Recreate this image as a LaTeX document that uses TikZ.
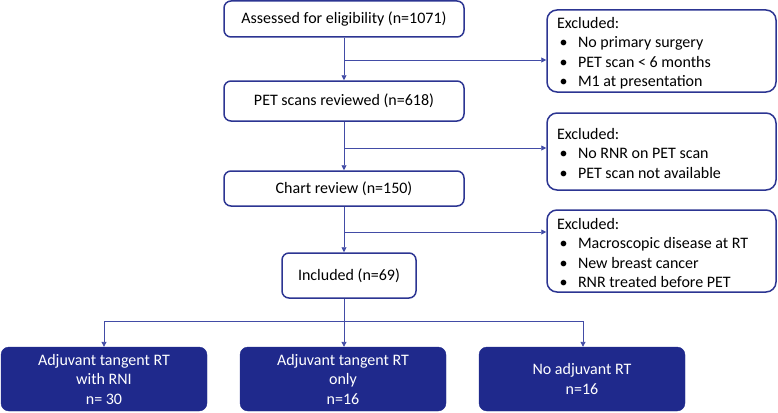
\documentclass[tikz,border=0pt]{standalone}
\usepackage{fontspec}
\setmainfont{Carlito}
\usetikzlibrary{arrows.meta}
\definecolor{bordc}{RGB}{44,53,146}
\definecolor{linec}{RGB}{66,76,166}
\definecolor{fillc}{RGB}{31,41,140}
\newcommand{\bitem}[1]{\\\makebox[21pt][l]{\hspace{2.5pt}\textbullet}#1}
\newcommand{\extext}[1]{\raisebox{-2pt}[\height][\depth]{\parbox{209pt}{\raggedright #1}}}
\begin{document}
\begin{tikzpicture}[x=1pt,y=-1pt,
  every node/.style={font=\fontsize{16}{19.5}\selectfont},
  mainbox/.style={draw=bordc,line width=1.5pt,rounded corners=7pt,fill=white,
    minimum width=240pt,inner sep=0pt,align=center},
  exbox/.style={draw=bordc,line width=1.5pt,rounded corners=10pt,fill=white,
    minimum width=229pt,inner xsep=10pt,inner ysep=0pt},
  armbox/.style={fill=fillc,draw=fillc,rounded corners=8pt,text=white,
    minimum width=206pt,minimum height=64pt,inner sep=0pt,align=center},
  conn/.style={draw=linec,line width=0.9pt},
  arr/.style={conn,-{Triangle[length=5pt,width=5pt]}}
]
\useasboundingbox (0,0) rectangle (778,412);

\node[mainbox,minimum height=36pt] (b1) at (344,19) {Assessed for eligibility (n=1071)};
\node[mainbox,minimum height=40pt] (b2) at (344,101) {PET scans reviewed (n=618)};
\node[mainbox,minimum height=35pt] (b3) at (344,188.5) {Chart review (n=150)};
\node[mainbox,minimum width=134pt,minimum height=45pt] (b4) at (349,275.5) {Included (n=69)};

\node[exbox,minimum height=82pt] (e1) at (661.5,51) {\extext{Excluded:\bitem{No primary surgery}\bitem{PET scan < 6 months}\bitem{M1 at presentation}}};
\node[exbox,minimum height=77pt] (e2) at (661.5,151.5) {\extext{Excluded:\bitem{No RNR on PET scan}\bitem{PET scan not available}}};
\node[exbox,minimum height=82pt] (e3) at (661.5,251) {\extext{Excluded:\bitem{Macroscopic disease at RT}\bitem{New breast cancer}\bitem{RNR treated before PET}}};

\node[armbox] (a1) at (104,379) {Adjuvant tangent RT\\with RNI\\n= 30};
\node[armbox] (a2) at (343,379) {Adjuvant tangent RT\\only\\n=16};
\node[armbox] (a3) at (582,379) {No adjuvant RT\\n=16};

\coordinate (j1) at (344,60);
\coordinate (j2) at (344,148);
\coordinate (j3) at (344,232);
\coordinate (j4) at (344,321);
\coordinate (j4l) at (104,321);
\coordinate (j4r) at (583,321);

\draw[arr] (b1.south) -- (b2.north);
\draw[arr] (j1) -- (j1 -| e1.west);
\draw[arr] (b2.south) -- (b3.north);
\draw[arr] (j2) -- (j2 -| e2.west);
\draw[arr] (b3.south) -- (b3.south |- b4.north);
\draw[arr] (j3) -- (j3 -| e3.west);
\draw[conn] (b4.south -| j4) -- (j4);
\draw[conn] (j4l) -- (j4r);
\draw[arr] (j4l) -- (j4l |- a1.north);
\draw[arr] (j4) -- (j4 |- a2.north);
\draw[arr] (j4r) -- (j4r |- a3.north);
\end{tikzpicture}
\end{document}
